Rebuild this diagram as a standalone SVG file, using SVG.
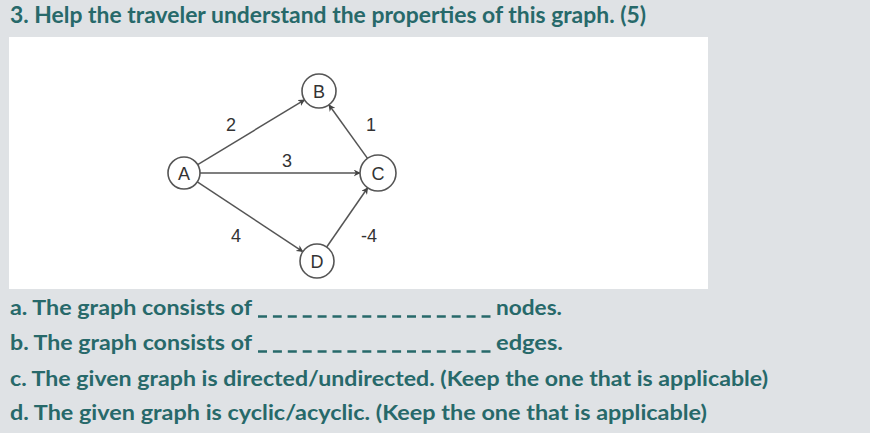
<svg xmlns="http://www.w3.org/2000/svg" width="870" height="433" viewBox="0 0 870 433">
<defs>
<marker id="arr" viewBox="0 0 10 10" refX="9" refY="5" markerWidth="7" markerHeight="7" markerUnits="userSpaceOnUse" orient="auto">
<path d="M0,0 L10,5 L0,10 L3,5 Z" fill="#444"/>
</marker>
</defs>
<style>
.q{font-family:Lato,"Open Sans","DejaVu Sans",sans-serif;font-weight:bold;fill:#27696a}
.node circle{fill:#fff;stroke:#555;stroke-width:1.6}
.node text{font-family:"Liberation Sans","DejaVu Sans",sans-serif;font-size:18px;fill:#333;text-anchor:middle}
.edge{stroke:#555;stroke-width:1.5;fill:none;marker-end:url(#arr)}
.lbl{font-family:"Liberation Sans","DejaVu Sans",sans-serif;font-size:18px;fill:#333;text-anchor:middle}
.blank{stroke:#27696a;stroke-width:2.5;stroke-dasharray:9 5.9}
</style>
<rect width="870" height="433" fill="#dfe2e5"/>
<text class="q" x="10" y="23" font-size="22" textLength="636" lengthAdjust="spacingAndGlyphs">3. Help the traveler understand the properties of this graph. (5)</text>
<rect x="9" y="37" width="699" height="252" fill="#ffffff"/>
<g id="connectors">
<line class="edge" x1="197.7" y1="164.7" x2="304.5" y2="99.8"/>
<line class="edge" x1="200" y1="173" x2="360" y2="173"/>
<line class="edge" x1="197.3" y1="181.8" x2="302.8" y2="251.6"/>
<line class="edge" x1="367.5" y1="158.4" x2="328.9" y2="104.8"/>
<line class="edge" x1="326.7" y1="247" x2="367.7" y2="187.8"/>
<text class="lbl" x="231" y="131">2</text>
<text class="lbl" x="287" y="167">3</text>
<text class="lbl" x="371" y="131">1</text>
<text class="lbl" x="236" y="242">4</text>
<text class="lbl" x="369" y="242">-4</text>
</g>
<g id="node-A" class="node"><circle cx="184" cy="173" r="16"/><text x="184" y="179.5">A</text></g>
<g id="node-B" class="node"><circle cx="319" cy="91" r="17"/><text x="319" y="97.5">B</text></g>
<g id="node-C" class="node"><circle cx="378" cy="173" r="18"/><text x="378" y="179.5">C</text></g>
<g id="node-D" class="node"><circle cx="317" cy="261" r="17"/><text x="317" y="267.5">D</text></g>
<text class="q" x="10" y="315" font-size="20" textLength="242" lengthAdjust="spacingAndGlyphs">a. The graph consists of</text>
<line class="blank" x1="258" y1="316.5" x2="490.5" y2="316.5"/>
<text class="q" x="496" y="315" font-size="20" textLength="66" lengthAdjust="spacingAndGlyphs">nodes.</text>
<text class="q" x="10" y="350" font-size="20" textLength="242" lengthAdjust="spacingAndGlyphs">b. The graph consists of</text>
<line class="blank" x1="258" y1="351.5" x2="490.5" y2="351.5"/>
<text class="q" x="496" y="350" font-size="20" textLength="67" lengthAdjust="spacingAndGlyphs">edges.</text>
<text class="q" x="10" y="386" font-size="20" textLength="758" lengthAdjust="spacingAndGlyphs">c. The given graph is directed/undirected. (Keep the one that is applicable)</text>
<text class="q" x="10" y="420" font-size="20" textLength="697" lengthAdjust="spacingAndGlyphs">d. The given graph is cyclic/acyclic. (Keep the one that is applicable)</text>
</svg>
